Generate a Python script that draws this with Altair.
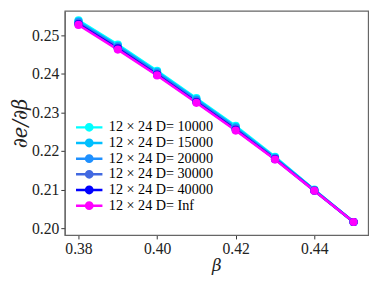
import altair as alt
import pandas as pd

beta = [0.38, 0.39, 0.40, 0.41, 0.42, 0.43, 0.44, 0.45]
labels = ["12 × 24 D= 10000", "12 × 24 D= 15000", "12 × 24 D= 20000",
          "12 × 24 D= 30000", "12 × 24 D= 40000", "12 × 24 D= Inf"]
colors = ["#00FFFF", "#00BFFF", "#1E90FF", "#4169E1", "#0000FF", "#FF00FF"]

d10000 = [0.2539, 0.2476, 0.2408, 0.2337, 0.2265, 0.2185, 0.2100, 0.2016]
d15000 = [0.2536, 0.2473, 0.2405, 0.2334, 0.2262, 0.2183, 0.2099, 0.2016]
d20000 = [0.2534, 0.2471, 0.2403, 0.2332, 0.2260, 0.2182, 0.2099, 0.2016]
d30000 = [0.2531, 0.2468, 0.2400, 0.2329, 0.2257, 0.2180, 0.2098, 0.2016]
d40000 = [0.2529, 0.2466, 0.2398, 0.2327, 0.2255, 0.2179, 0.2097, 0.2016]
dinf = [0.2527, 0.2463, 0.2396, 0.2325, 0.2253, 0.2178, 0.2097, 0.2016]

series = [d10000, d15000, d20000, d30000, d40000, dinf]
rows = []
for i, (lab, vals) in enumerate(zip(labels, series)):
    for b, v in zip(beta, vals):
        rows.append({"beta": b, "val": v, "series": lab, "order": i})
df = pd.DataFrame(rows)

FONT = "Liberation Serif"
TFONT = "DejaVu Serif"
path = ("M-1.5,-0.14 H1.5 V0.14 H-1.5 Z "
        "M0.5,0 A0.5,0.5 0 1,1 -0.5,0 A0.5,0.5 0 1,1 0.5,0 Z")

legend = alt.Legend(
    title=None, orient="none", legendX=16, legendY=110, padding=0,
    symbolType=path, symbolSize=324, symbolStrokeWidth=0, symbolOpacity=1,
    labelFont=FONT, labelFontSize=14.5, labelColor="black", labelOffset=11,
    rowPadding=0,
)
color = alt.Color("series:N", scale=alt.Scale(domain=labels, range=colors),
                  sort=labels, legend=legend)

x = alt.X("beta:Q", scale=alt.Scale(domain=[0.3765, 0.4537], nice=False, zero=False),
          axis=alt.Axis(values=[0.38, 0.40, 0.42, 0.44], format=".2f", title="β",
                        grid=False, titleFont=TFONT, titleFontStyle="italic",
                        titleFontSize=17, titleFontWeight="normal", titlePadding=1))
y = alt.Y("val:Q", scale=alt.Scale(domain=[0.19823, 0.25633], nice=False, zero=False),
          axis=alt.Axis(values=[0.20, 0.21, 0.22, 0.23, 0.24, 0.25], format=".2f",
                        title="∂e/∂β", grid=False, titleFont=TFONT,
                        titleFontStyle="italic", titleFontSize=20,
                        titleFontWeight="normal", titlePadding=1))

base = alt.Chart(df)
lines = base.mark_line(strokeWidth=2.5).encode(x=x, y=y, color=color,
                                               order="order:Q",
                                               detail="series:N")
pts = base.mark_point(filled=True, size=70, opacity=1).encode(x=x, y=y, color=color,
                                                              order="order:Q")

chart = alt.layer(lines, pts).properties(
    width=310, height=229,
    autosize=alt.AutoSizeParams(type="none"),
    padding={"left": 58, "top": 0, "right": 6, "bottom": 43},
).configure_view(stroke="#666666", strokeWidth=1.2).configure_axis(
    domainColor="#666666", tickColor="#333333", tickSize=4, labelFont=FONT,
    labelFontSize=16, labelColor="#222222", titleColor="#222222", labelPadding=2,
    domainWidth=1.2,
)

chart.save("out.html", embed_options={"renderer": "svg", "actions": False})
